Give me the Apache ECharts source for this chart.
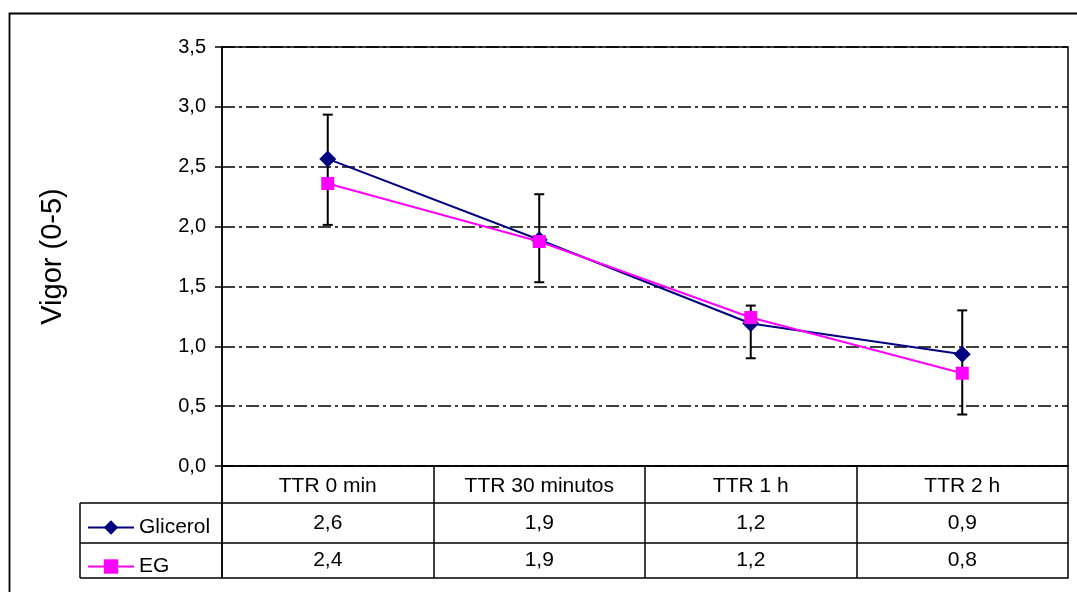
<!DOCTYPE html>
<html>
<head>
<meta charset="utf-8">
<script src="https://cdn.jsdelivr.net/npm/echarts@6/dist/echarts.min.js"></script>
<style>
html,body{margin:0;padding:0;background:#fff;}
#chart{width:1077px;height:592px;}
</style>
</head>
<body>
<div id="chart"></div>
<script>
// ---- data ----
var categories = ['TTR 0 min', 'TTR 30 minutos', 'TTR 1 h', 'TTR 2 h'];
var seriesNames = ['Glicerol', 'EG'];
var glicerol = [2.565, 1.89, 1.19, 0.933];
var eg = [2.36, 1.875, 1.24, 0.775];
var errHigh = [2.935, 2.27, 1.34, 1.30];
var errLow = [2.014, 1.535, 0.90, 0.43];
var yTicks = [0, 0.5, 1, 1.5, 2, 2.5, 3, 3.5];

var FONT = '"Liberation Sans", Arial, sans-serif';
function fmt(v) { return v.toFixed(1).replace('.', ','); }

var chart = echarts.init(document.getElementById('chart'), null, {renderer: 'canvas'});

var G = {left: 222, right: 9, top: 47, bottom: 126};
var rowH = [37, 40, 35];

function tableAxis(labels, offset, tickLen, showLabels, margin) {
  return {
    type: 'category',
    data: labels,
    position: 'bottom',
    offset: offset,
    boundaryGap: true,
    axisLine: {show: true, onZero: false, lineStyle: {color: '#000', width: 1.5}},
    axisTick: {show: tickLen > 0, length: tickLen, interval: 0, lineStyle: {color: '#000', width: 1.5}},
    axisLabel: {show: showLabels, interval: 0, margin: margin, color: '#000', fontSize: 21, fontFamily: FONT},
    splitLine: {show: false}
  };
}

var legendCommon = {
  itemWidth: 46, itemHeight: 18, itemGap: 8,
  textStyle: {color: '#000', fontSize: 21, fontFamily: FONT},
  selectedMode: false
};

var option = {
  backgroundColor: '#fff',
  animation: false,
  grid: {left: G.left, right: G.right, top: G.top, bottom: G.bottom, show: true, borderColor: '#000', borderWidth: 1.5, containLabel: false},
  legend: [
    Object.assign({data: [seriesNames[0]], left: 82, top: 512}, legendCommon),
    Object.assign({data: [seriesNames[1]], left: 82, top: 551}, legendCommon)
  ],
  xAxis: [
    tableAxis(categories, 0, rowH[0], true, 10),
    tableAxis(glicerol.map(fmt), rowH[0], rowH[1], true, 10),
    tableAxis(eg.map(fmt), rowH[0] + rowH[1], rowH[2], true, 7),
    tableAxis(categories.map(function(){return '';}), rowH[0] + rowH[1] + rowH[2], 0, false, 0)
  ],
  yAxis: {
    type: 'value',
    min: 0, max: 3.5, interval: 0.5,
    name: 'Vigor (0-5)',
    nameLocation: 'middle',
    nameGap: 155,
    nameTextStyle: {color: '#000', fontSize: 29, fontFamily: FONT},
    axisLine: {show: true, lineStyle: {color: '#000', width: 1.5}},
    axisTick: {show: true, length: 7, lineStyle: {color: '#000', width: 1.5}},
    axisLabel: {color: '#000', fontSize: 20, fontFamily: FONT, margin: 16,
      formatter: function(v){ return fmt(v); }},
    splitLine: {show: true, lineStyle: {color: '#000', width: 1.5, type: [13, 4, 3, 4]}}
  },
  series: [
    {
      name: 'err',
      type: 'custom',
      xAxisIndex: 0,
      z: 1,
      data: categories.map(function(c, i){ return [i, errLow[i], errHigh[i]]; }),
      renderItem: function(params, api) {
        var x = api.value(0);
        var lo = api.coord([x, api.value(1)]);
        var hi = api.coord([x, api.value(2)]);
        var w = 5;
        var st = {stroke: '#000', lineWidth: 2};
        return {
          type: 'group',
          children: [
            {type: 'line', shape: {x1: hi[0], y1: hi[1], x2: lo[0], y2: lo[1]}, style: st},
            {type: 'line', shape: {x1: hi[0]-w, y1: hi[1], x2: hi[0]+w, y2: hi[1]}, style: st},
            {type: 'line', shape: {x1: lo[0]-w, y1: lo[1], x2: lo[0]+w, y2: lo[1]}, style: st}
          ]
        };
      }
    },
    {
      name: seriesNames[0],
      type: 'line',
      xAxisIndex: 0,
      data: glicerol,
      symbol: 'diamond',
      symbolSize: 17,
      z: 3,
      itemStyle: {color: '#000080'},
      lineStyle: {color: '#000080', width: 2}
    },
    {
      name: seriesNames[1],
      type: 'line',
      xAxisIndex: 0,
      data: eg,
      symbol: 'rect',
      symbolSize: 13,
      z: 4,
      itemStyle: {color: '#FF00FF'},
      lineStyle: {color: '#FF00FF', width: 2}
    }
  ]
};
chart.setOption(option);

// table frame for the legend column, positioned from the axis geometry
function frame() {
  var x0 = chart.convertToPixel({xAxisIndex: 0}, 0) - (chart.convertToPixel({xAxisIndex: 0}, 1) - chart.convertToPixel({xAxisIndex: 0}, 0)) / 2;
  var yAxisBottom = chart.convertToPixel({yAxisIndex: 0}, 0);
  var y1 = yAxisBottom + rowH[0];
  var y2 = y1 + rowH[1];
  var y3 = y2 + rowH[2];
  var lx = 80;
  var st = {stroke: '#000', lineWidth: 1.5};
  chart.setOption({graphic: [
    {type: 'rect', left: 7, top: 11, shape: {width: 1200, height: 800}, style: {fill: 'none', stroke: '#000', lineWidth: 1.8}, silent: true, z: -10},
    {type: 'line', shape: {x1: lx, y1: y1, x2: x0, y2: y1}, style: st, silent: true},
    {type: 'line', shape: {x1: lx, y1: y2, x2: x0, y2: y2}, style: st, silent: true},
    {type: 'line', shape: {x1: lx, y1: y3, x2: x0, y2: y3}, style: st, silent: true},
    {type: 'line', shape: {x1: lx, y1: y1, x2: lx, y2: y3}, style: st, silent: true},
    {type: 'line', shape: {x1: x0, y1: yAxisBottom, x2: x0, y2: y3}, style: st, silent: true}
  ]});
}
frame();
</script>
</body>
</html>
